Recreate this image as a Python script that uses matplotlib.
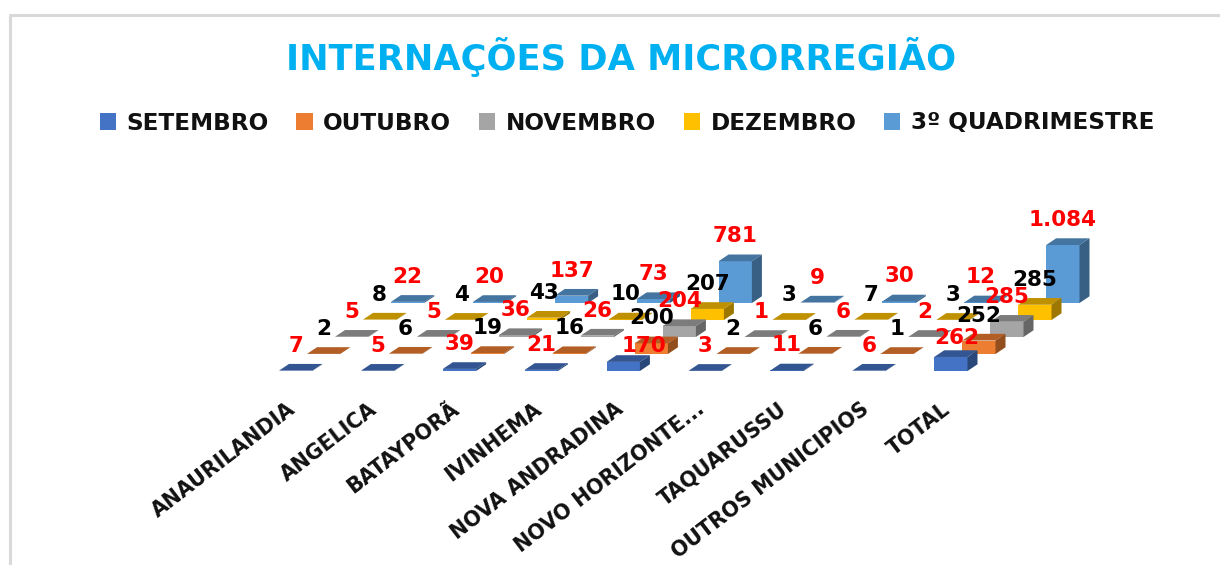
import matplotlib
matplotlib.use('Agg')
import matplotlib.pyplot as plt
from matplotlib.patches import Patch, Polygon
from matplotlib.colors import to_rgb

# Values
categories = ['ANAURILANDIA', 'ANGELICA', 'BATAYPORÃ', 'IVINHEMA', 'NOVA ANDRADINA',
              'NOVO HORIZONTE...', 'TAQUARUSSU', 'OUTROS MUNICIPIOS', 'TOTAL']
series_names = ['SETEMBRO', 'OUTUBRO', 'NOVEMBRO', 'DEZEMBRO', '3º QUADRIMESTRE']
setembro = [7, 5, 39, 21, 170, 3, 11, 6, 262]
outubro = [2, 6, 19, 16, 200, 2, 6, 1, 252]
novembro = [5, 5, 36, 26, 204, 1, 6, 2, 285]
dezembro = [8, 4, 43, 10, 207, 3, 7, 3, 285]
quadrimestre = [22, 20, 137, 73, 781, 9, 30, 12, 1084]
all_series = [setembro, outubro, novembro, dezembro, quadrimestre]

colors = ['#4472C4', '#ED7D31', '#A5A5A5', '#FFC000', '#5B9BD5']
label_colors = ['red', 'black', 'red', 'black', 'red']

# Oblique projection of the 3D chart, in figure pixels
X0, Y0 = 279.0, 371.0
CAT_STEP = 81.9
SER_DX, SER_DY = 28.0, -17.0
BAR_W = 33.3
DEPTH_X, DEPTH_Y = 10.0, -6.7
PX_PER_UNIT = 58.0 / 1084


def shade(color, k):
    return tuple(c * k for c in to_rgb(color))


def fmt(v):
    return f'{v:,}'.replace(',', '.')


fig = plt.figure(figsize=(12.2, 5.65), dpi=100)
ax = fig.add_axes([0, 0, 1, 1])
ax.set_xlim(0, 1220)
ax.set_ylim(565, 0)
ax.axis('off')

# chart border, it runs off the right and bottom of the picture
ax.plot([10, 10, 1220], [565, 15, 15], color='#D9D9D9', lw=2.2, solid_capstyle='butt')

# Back row first so the front rows overlap it
for s in range(4, -1, -1):
    for c, v in enumerate(all_series[s]):
        x = X0 + c * CAT_STEP + s * SER_DX
        base = Y0 + s * SER_DY
        top = base - v * PX_PER_UNIT
        ax.add_patch(Polygon([(x, base), (x + BAR_W, base), (x + BAR_W, top), (x, top)],
                             fc=colors[s], ec='none', zorder=3))
        ax.add_patch(Polygon([(x, top), (x + BAR_W, top), (x + BAR_W + DEPTH_X, top + DEPTH_Y),
                              (x + DEPTH_X, top + DEPTH_Y)],
                             fc=shade(colors[s], 0.75), ec='none', zorder=3))
        ax.add_patch(Polygon([(x + BAR_W, base), (x + BAR_W + DEPTH_X, base + DEPTH_Y),
                              (x + BAR_W + DEPTH_X, top + DEPTH_Y), (x + BAR_W, top)],
                             fc=shade(colors[s], 0.62), ec='none', zorder=3))

# Data labels, two of them were dragged by hand in the original
nudges = {(0, 4): (21, 9), (0, 8): (6, 6)}
for s, values in enumerate(all_series):
    for c, v in enumerate(values):
        nx, ny = nudges.get((s, c), (0, 0))
        x = X0 + c * CAT_STEP + s * SER_DX + BAR_W / 2 + nx
        y = Y0 + s * SER_DY - v * PX_PER_UNIT - 25 + ny
        ax.text(x, y, fmt(v), color=label_colors[s], fontsize=15.5, fontweight='bold',
                family='DejaVu Sans', ha='center', va='center', zorder=5)

# Category labels
for c, name in enumerate(categories):
    ax.text(287 + c * CAT_STEP, 399, name, rotation=37.5, rotation_mode='anchor', ha='right', va='top',
            fontsize=14.8, fontweight='bold', family='DejaVu Sans', color='#111111', zorder=5)

ax.text(621, 57, 'INTERNAÇÕES DA MICRORREGIÃO', color='#00B0F0', fontsize=25.4, fontweight='bold',
        family='DejaVu Sans', ha='center', va='center')

handles = [Patch(fc=col, ec='none') for col in colors]
fig.legend(handles, series_names, ncols=5, loc='center', bbox_to_anchor=(627 / 1220, 1 - 123 / 565),
           frameon=False, handlelength=0.7, handleheight=0.7, handletextpad=0.45, columnspacing=1.2,
           prop={'family': 'DejaVu Sans', 'weight': 'bold', 'size': 16.7}, labelcolor='#111111')

fig.savefig('out.png', dpi=100)
